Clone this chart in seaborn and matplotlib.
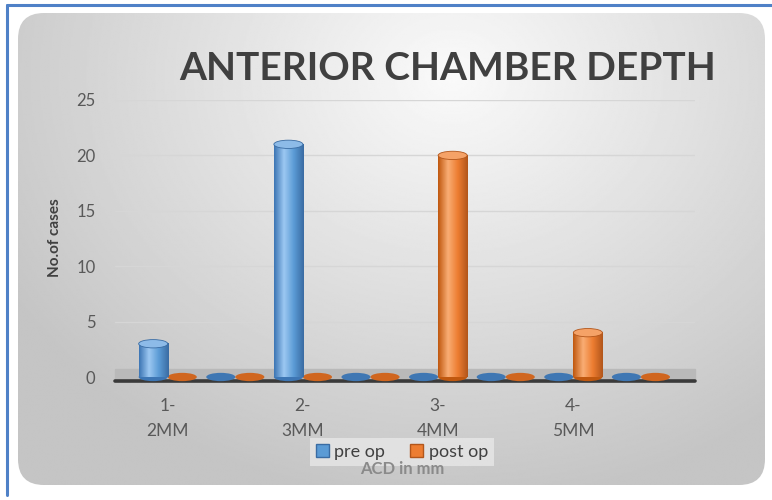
import numpy as np
import pandas as pd
import matplotlib
matplotlib.use("Agg")
import matplotlib.pyplot as plt
import seaborn as sns
from matplotlib.patches import Ellipse, FancyBboxPatch
from matplotlib.colors import LinearSegmentedColormap

# data (Excel skips every other category label)
groups = ["1-\n2MM", "", "2-\n3MM", "", "3-\n4MM", "", "4-\n5MM", ""]
pre_op = [3, 0, 21, 0, 0, 0, 0, 0]
post_op = [0, 0, 0, 0, 20, 0, 4, 0]
series = ["pre op", "post op"]

df = pd.DataFrame({
    "pos": list(range(len(groups))) * 2,
    "series": [series[0]] * len(groups) + [series[1]] * len(groups),
    "cases": pre_op + post_op,
})

sns.set_theme(style="white")
plt.rcParams["font.family"] = ["Lato", "DejaVu Sans"]

colors = {"pre op": "#5b9bd5", "post op": "#ed7d31"}
shades = {
    "pre op": ["#3d76b4", "#9cc8f2", "#5b9bd5", "#3a6ca3"],
    "post op": ["#c0580f", "#f9ad74", "#ed7d31", "#b2561b"],
}
tops = {"pre op": "#8dbbe8", "post op": "#f5a267"}
flats = {"pre op": "#3f77b3", "post op": "#d0661f"}

fig = plt.figure(figsize=(7.72, 5.0), dpi=100)

# background: blue frame + rounded grey gradient panel
bg = fig.add_axes([0, 0, 1, 1], zorder=-5)
bg.set_xlim(0, 772)
bg.set_ylim(500, 0)
bg.axis("off")
bg.plot([7, 7], [5, 495], color="#4f81c7", lw=2.2)
bg.plot([7, 772], [5, 5], color="#4f81c7", lw=2.2)
panel = FancyBboxPatch((18, 13), 747, 472, boxstyle="round,pad=0,rounding_size=26",
                       facecolor="none", edgecolor="none")
bg.add_patch(panel)
yy, xx = np.mgrid[0:300, 0:500]
dist = np.sqrt(((xx - 290) / 330.0) ** 2 + ((yy - 40) / 260.0) ** 2)
shade = np.clip(0.98 - 0.20 * dist, 0.77, 0.98)
bg.imshow(shade, cmap="gray", vmin=0, vmax=1, extent=(18, 765, 485, 13),
          aspect="auto", clip_path=panel, interpolation="bilinear")

ax = fig.add_axes([115 / 772, 123 / 500, 580 / 772, 277 / 500])
ax.patch.set_alpha(0)

sns.barplot(data=df, x="pos", y="cases", hue="series", hue_order=series,
            palette=colors, width=0.86, ax=ax, errorbar=None, legend=True)

# cylinder look on each bar
for cont, name in zip(ax.containers, series):
    cmap = LinearSegmentedColormap.from_list(name, shades[name])
    grad = np.linspace(0, 1, 64).reshape(1, -1)
    for rect in cont:
        x, w, h = rect.get_x(), rect.get_width(), rect.get_height()
        cx = x + w / 2
        rect.set_facecolor("none")
        rect.set_edgecolor("none")
        if h > 0:
            ax.imshow(grad, cmap=cmap, extent=(x, x + w, 0, h), aspect="auto",
                      clip_path=rect, zorder=3, interpolation="bilinear")
            ax.add_patch(Ellipse((cx, 0), w, 0.75, facecolor=shades[name][0],
                                 edgecolor="none", zorder=2.5, clip_on=False))
            ax.add_patch(Ellipse((cx, h), w, 0.75, facecolor=tops[name],
                                 edgecolor=shades[name][3], lw=0.6, zorder=4))
        else:
            ax.add_patch(Ellipse((cx, 0), w, 0.75, facecolor=flats[name],
                                 edgecolor="none", zorder=2.5, clip_on=False))

# floor and base line
floor = ax.axhspan(-0.4, 0.75, color="#b9b9b9", zorder=1)
floor.set_clip_on(False)
base = ax.axhline(-0.4, color="#3a3a3a", lw=2.6, zorder=1.2)
base.set_clip_on(False)

ax.set_xlim(-0.78, 7.8)
ax.set_ylim(0, 25)
ax.set_yticks(range(0, 26, 5))
ax.yaxis.grid(True, color="#d6d6d6", lw=1)
ax.set_axisbelow(True)
sns.despine(ax=ax, left=True, bottom=True)
ax.set_xticks(range(len(groups)))
ax.set_xticklabels(groups, linespacing=1.7)
ax.tick_params(axis="y", length=0, pad=14, labelsize=12, labelcolor="#595959")
ax.tick_params(axis="x", length=0, pad=15, labelsize=12.5, labelcolor="#595959")
ax.set_xlabel("")
ax.set_ylabel("")

fig.text(55 / 772, 1 - 238 / 500, "No.of cases", rotation=90, ha="center",
         va="center", fontsize=11, fontweight="bold", color="#404040")
fig.text(448 / 772, 1 - 68 / 500, "ANTERIOR CHAMBER DEPTH", ha="center",
         va="center", fontsize=28, fontweight="bold", color="#404040")
fig.text(402 / 772, 1 - 469 / 500, "ACD in mm", ha="center", va="center",
         fontsize=12, fontweight="bold", color="#8a8a8a")

leg = ax.legend(loc="center", bbox_to_anchor=(402 / 772, 1 - 452 / 500),
                bbox_transform=fig.transFigure, ncol=2, title=None,
                frameon=True, facecolor="#ebebeb", edgecolor="none",
                framealpha=0.7, fancybox=False, handlelength=0.7,
                handleheight=0.7, handletextpad=0.3, columnspacing=1.4,
                fontsize=13, borderpad=0.35)
for t in leg.get_texts():
    t.set_color("#404040")
for hnd, name in zip(leg.legend_handles, series):
    hnd.set_facecolor(colors[name])
    hnd.set_edgecolor(shades[name][3])

fig.savefig("out.png", dpi=100)
